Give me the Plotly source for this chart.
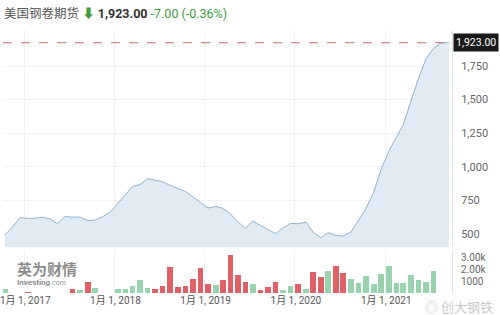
import pandas as pd
import plotly.graph_objects as go

# ---- data ----
months = pd.date_range("2016-10-01", periods=60, freq="MS") + pd.Timedelta(days=14)
prices = [493, 553, 622,
          616, 618, 624, 613, 575, 630, 625, 626, 600, 603, 630, 663,
          727, 790, 853, 868, 912, 900, 888, 861, 839, 817, 775, 733,
          693, 705, 691, 650, 592, 541, 597, 563, 533, 503, 546, 578,
          576, 588, 513, 472, 510, 488, 485, 515, 603, 690, 810, 980,
          1115, 1220, 1315, 1490, 1655, 1805, 1880, 1923, 1923]
volumes = [310, 0, 0,
           80, 0, 0, 0, 0, 0, 310, 230, 960, 450, 0, 0,
           310, 365, 565, 1130, 450, 365, 565, 2200, 510, 565, 1210, 2060,
           735, 680, 1075, 3190, 1500, 930, 735, 280, 510, 960, 230, 620,
           790, 365, 1780, 1355, 1840, 2260, 1695, 1210, 875, 1410, 790, 1635,
           2260, 850, 850, 1500, 1130, 900, 1865, 0, 0]
direction = ["up", "down", "down",
             "down", "down", "down", "down", "down", "down", "down", "up", "down", "up", "down", "down",
             "up", "up", "up", "up", "up", "down", "down", "down", "down", "down", "down", "down",
             "down", "up", "down", "down", "down", "down", "up", "down", "down", "down", "up", "up",
             "down", "up", "down", "down", "up", "down", "down", "up", "up", "up", "up", "up",
             "up", "up", "up", "up", "up", "up", "up", "up", "up"]
last_price = 1923.00
price_ticks = [500, 750, 1000, 1250, 1500, 1750]
vol_ticks = [1000, 2000, 3000]
vol_tick_text = ["1000", "2.00k", "3.00k"]
year_ticks = ["2017-01-01", "2018-01-01", "2019-01-01", "2020-01-01", "2021-01-01"]
year_text = ["1月 1, 2017", "1月 1, 2018", "1月 1, 2019", "1月 1, 2020", "1月 1, 2021"]

# ---- style ----
FONT = "Roboto, 'Noto Sans CJK SC', sans-serif"
GREEN_BAR = "#99d3ae"
RED_BAR = "#e06165"
bar_colors = [GREEN_BAR if d == "up" else RED_BAR for d in direction]

fig = go.Figure()
fig.add_trace(go.Scatter(
    x=months, y=prices, mode="lines", xaxis="x2", yaxis="y",
    line=dict(color="#8fb3d0", width=1), fill="tozeroy",
    fillcolor="rgba(214,228,240,0.75)", hoverinfo="skip"))
fig.add_trace(go.Bar(
    x=months, y=volumes, xaxis="x", yaxis="y2",
    marker=dict(color=bar_colors, line=dict(width=0)),
    width=23 * 86400000))

xrange = ["2016-10-07", "2021-09-28"]
fig.update_layout(
    width=500, height=315,
    margin=dict(l=3, r=48, t=0, b=22),
    paper_bgcolor="white", plot_bgcolor="white",
    showlegend=False, bargap=0,
    font=dict(family=FONT, size=11, color="#666"),
    xaxis=dict(domain=[0, 1], anchor="y2", range=xrange, type="date",
               tickvals=year_ticks, ticktext=year_text, showgrid=True,
               gridcolor="#f1f1f1", zeroline=False, showline=False, ticks="",
               ticklabeloverflow="allow", ticklabelshift=1,
               tickfont=dict(size=10, color="#555")),
    xaxis2=dict(domain=[0, 1], anchor="y", matches="x", type="date",
                tickvals=year_ticks, showticklabels=False, showgrid=True,
                gridcolor="#f1f1f1", zeroline=False, ticks=""),
    yaxis=dict(domain=[0.157, 0.8976], range=[403, 2018], side="right",
               tickvals=price_ticks, tickformat=",", showgrid=True,
               gridcolor="#f1f1f1", zeroline=False, showline=True,
               linecolor="#e2e2e2", linewidth=1, ticks="", ticklabelstandoff=6,
               tickfont=dict(size=11, color="#666")),
    yaxis2=dict(domain=[0, 0.1468], range=[0, 3613], side="right",
                tickvals=vol_ticks, ticktext=vol_tick_text, showgrid=False,
                zeroline=False, showline=True, linecolor="#e2e2e2", ticks="",
                ticklabelstandoff=6, tickfont=dict(size=10, color="#666")),
)

# dashed last-price line
fig.add_shape(type="line", xref="paper", yref="y", x0=0, x1=1,
              y0=last_price, y1=last_price,
              line=dict(color="#c46a68", width=1, dash="dash"))
# last-price box
fig.add_annotation(xref="paper", yref="y", x=1, y=last_price, xanchor="left",
                   xshift=1, text=f"{last_price:,.2f}", showarrow=False,
                   bgcolor="#1a1a1a", font=dict(color="white", size=10.5),
                   borderpad=2)
# title
fig.add_annotation(
    xref="paper", yref="paper", x=-0.002, y=0.955, xanchor="left", yanchor="middle",
    showarrow=False,
    text=("<span style='color:#555'>美国钢卷期货</span> "
          "<span style='color:#3d9e3d'>⬇</span> "
          "<b><span style='color:#333'>1,923.00</span></b> "
          "<span style='color:#3d9e3d'>-7.00 (-0.36%)</span>"),
    font=dict(size=12.5, family=FONT))
# watermarks
fig.add_annotation(xref="paper", yref="paper", x=0.027, y=0.085, xanchor="left",
                   yanchor="middle", showarrow=False,
                   text="<b>英为财情</b>",
                   font=dict(size=15, color="rgba(110,110,110,0.8)", family="'Noto Sans CJK SC'"))
fig.add_annotation(xref="paper", yref="paper", x=0.027, y=0.035, xanchor="left",
                   yanchor="middle", showarrow=False,
                   text="<b>Investing</b><span style='font-size:7px'>.com</span>",
                   font=dict(size=8, color="rgba(110,110,110,0.8)"))
fig.add_annotation(xref="paper", yref="paper", x=1.095, y=-0.045, xanchor="right",
                   yanchor="middle", showarrow=False,
                   text="◎ 创大钢铁",
                   font=dict(size=13, color="rgba(190,190,190,0.85)", family="'Noto Sans CJK SC'"))

fig.write_html("out.html")
